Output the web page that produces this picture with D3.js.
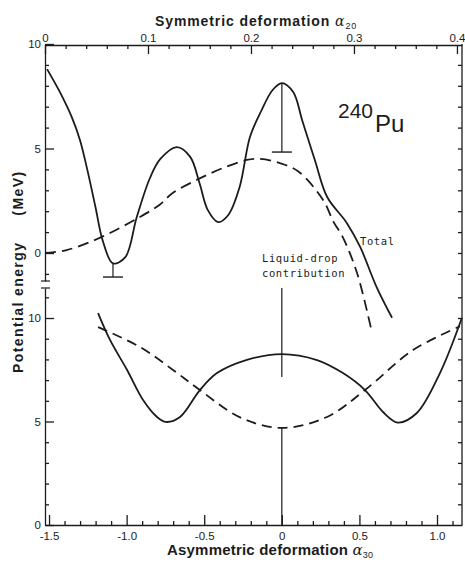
<!DOCTYPE html>
<html>
<head>
<meta charset="utf-8">
<title>240Pu potential energy</title>
<script src="https://d3js.org/d3.v7.min.js"></script>
<style>
  body { margin: 0; background: #fff; }
  svg { display: block; font-family: "Liberation Sans", Arial, sans-serif; }
  .axis path, .axis line { stroke: #1c1c1c; stroke-width: 1.3; }
  .axis text { font-size: 11px; fill: #1c1c1c; }
  .curve { fill: none; stroke: #1c1c1c; stroke-width: 1.8; }
</style>
</head>
<body>
<svg width="465" height="562"></svg>
<script>
// upper panel: energy (MeV) against symmetric deformation alpha20
const totalA20 = [0.002, 0.015, 0.026, 0.034, 0.041, 0.049, 0.056, 0.066, 0.078, 0.089, 0.102, 0.112, 0.128,
                  0.141, 0.150, 0.158, 0.168, 0.178, 0.189, 0.199, 0.209, 0.221, 0.230, 0.241, 0.250, 0.262,
                  0.274, 0.293, 0.306, 0.322, 0.337];
const totalE = [8.8, 7.65, 6.5, 5.4, 4.0, 2.2, 0.6, -0.5, -0.2, 1.7, 3.6, 4.5, 5.07,
                4.6, 3.35, 2.06, 1.48, 1.82, 3.16, 5.55, 6.7, 7.8, 8.13, 7.7, 6.3, 4.45,
                2.68, 1.44, 0.29, -1.63, -3.1];
const ldropA20 = [0.0, 0.021, 0.053, 0.092, 0.111, 0.124, 0.147, 0.173, 0.196, 0.209, 0.228, 0.246,
                  0.270, 0.280, 0.289, 0.303, 0.317];
const ldropE = [0.0, 0.14, 0.72, 1.72, 2.3, 2.87, 3.49, 4.07, 4.45, 4.5, 4.3, 3.9,
                2.54, 1.5, 0.77, -0.96, -3.7];

// lower panel: energy (MeV) against asymmetric deformation alpha30
const totalA30 = [-1.184, -1.107, -0.997, -0.894, -0.804, -0.747, -0.656, -0.528, -0.418, -0.23, 0,
                  0.227, 0.394, 0.536, 0.652, 0.748, 0.87, 1.019, 1.16];
const totalLowE = [10.24, 8.94, 7.49, 6.04, 5.22, 4.98, 5.22, 6.52, 7.34, 7.97, 8.26,
                   7.97, 7.34, 6.52, 5.46, 4.95, 5.41, 7.34, 10.0];
const ldropA30 = [-1.184, -0.914, -0.701, -0.528, -0.269, 0, 0.291, 0.536, 0.845, 1.148];
const ldropLowE = [9.56, 8.6, 7.49, 6.52, 5.2, 4.69, 5.22, 6.52, 8.45, 9.6];

// shell-correction arrows (upper panel)
const arrowA20 = [0.066, 0.230];
const arrowFrom = [-0.5, 8.13];
const arrowTo = [-1.15, 4.83];

// vertical marker at alpha30 = 0 (lower panel), broken between the curves
const markFrom = [11.45, 4.69];
const markTo = [7.15, 0];

// ticks
const topTicks = [0, 0.1, 0.2, 0.3, 0.4];
const topLabels = ["0", "0.1", "0.2", "0.3", "0.4"];
const bottomTicks = [-1.5, -1.0, -0.5, 0, 0.5, 1.0];
const bottomLabels = ["-1.5", "-1.0", "-0.5", "0", "0.5", "1.0"];
const energyTicks = [0, 5, 10];
const energyLabels = ["0", "5", "10"];

const svg = d3.select("svg");
const ink = "#1c1c1c";

const xTop = d3.scaleLinear().domain([0, 0.4049]).range([45, 462]);
const xBot = d3.scaleLinear().domain([-1.526, 1.161]).range([45, 462]);
const yUp = d3.scaleLinear().domain([-1.34, 10]).range([281, 44]);
const yLow = d3.scaleLinear().domain([0, 11.45]).range([525, 288]);

function minorOf(lo, hi, step, majors) {
  return d3.range(lo, hi + step / 2, step).map(v => +v.toFixed(3))
    .filter(v => !majors.some(m => Math.abs(m - v) < 1e-6));
}

// top axis
svg.append("g").attr("class", "axis").attr("transform", "translate(0,45)")
  .call(d3.axisTop(xTop).tickValues(minorOf(0, 0.4, 0.02, topTicks)).tickSizeInner(-4).tickSizeOuter(0).tickFormat(""))
  .call(g => g.select(".domain").remove());
svg.append("g").attr("class", "axis").attr("transform", "translate(0,45)")
  .call(d3.axisTop(xTop).tickValues(topTicks).tickSizeInner(-9).tickSizeOuter(0).tickPadding(3)
    .tickFormat((d, i) => topLabels[i]));

// bottom axis
svg.append("g").attr("class", "axis").attr("transform", "translate(0,525)")
  .call(d3.axisBottom(xBot).tickValues(minorOf(-1.5, 1.1, 0.1, bottomTicks)).tickSizeInner(-4).tickSizeOuter(0).tickFormat(""))
  .call(g => g.select(".domain").remove());
svg.append("g").attr("class", "axis").attr("transform", "translate(0,525)")
  .call(d3.axisBottom(xBot).tickValues(bottomTicks).tickSizeInner(-10).tickSizeOuter(0).tickPadding(7)
    .tickFormat((d, i) => bottomLabels[i]));

// left axis, upper and lower parts
svg.append("g").attr("class", "axis").attr("transform", "translate(45,0)")
  .call(d3.axisLeft(yUp).tickValues(minorOf(-1, 9, 1, energyTicks)).tickSizeInner(-4).tickSizeOuter(0).tickFormat(""))
  .call(g => g.select(".domain").remove());
svg.append("g").attr("class", "axis").attr("transform", "translate(45,0)")
  .call(d3.axisLeft(yUp).tickValues(energyTicks).tickSizeInner(-9).tickSizeOuter(0).tickPadding(4)
    .tickFormat((d, i) => energyLabels[i]));
svg.append("g").attr("class", "axis").attr("transform", "translate(45,0)")
  .call(d3.axisLeft(yLow).tickValues(minorOf(1, 11, 1, energyTicks)).tickSizeInner(-4).tickSizeOuter(0).tickFormat(""))
  .call(g => g.select(".domain").remove());
svg.append("g").attr("class", "axis").attr("transform", "translate(45,0)")
  .call(d3.axisLeft(yLow).tickValues(energyTicks).tickSizeInner(-9).tickSizeOuter(0).tickPadding(4)
    .tickFormat((d, i) => energyLabels[i]));
svg.selectAll(".axis text").style("font-size", "11.5px");

// axis break marks
[yUp(-1.34), yLow(11.45)].forEach(y => {
  svg.append("line").attr("x1", 41).attr("x2", 50).attr("y1", y).attr("y2", y)
    .attr("stroke", ink).attr("stroke-width", 1.2);
});

// right axis, continuous
svg.append("line").attr("x1", 462).attr("x2", 462).attr("y1", 44).attr("y2", 525)
  .attr("stroke", ink).attr("stroke-width", 1.3);
svg.append("g").attr("class", "axis").attr("transform", "translate(462,0)")
  .call(d3.axisRight(yUp).tickValues(d3.range(-1, 10, 1)).tickSizeInner(-4).tickSizeOuter(0).tickFormat(""))
  .call(g => g.select(".domain").remove());
svg.append("g").attr("class", "axis").attr("transform", "translate(462,0)")
  .call(d3.axisRight(yLow).tickValues(d3.range(1, 12, 1)).tickSizeInner(-4).tickSizeOuter(0).tickFormat(""))
  .call(g => g.select(".domain").remove());

// curves
const lineUp = d3.line().x(d => xTop(d[0])).y(d => yUp(d[1])).curve(d3.curveCatmullRom.alpha(0.5));
const lineLow = d3.line().x(d => xBot(d[0])).y(d => yLow(d[1])).curve(d3.curveCatmullRom.alpha(0.5));

svg.append("path").attr("class", "curve").attr("d", lineUp(d3.zip(totalA20, totalE)));
svg.append("path").attr("class", "curve").attr("stroke-dasharray", "11,6")
  .attr("d", lineUp(d3.zip(ldropA20, ldropE)));
svg.append("path").attr("class", "curve").attr("d", lineLow(d3.zip(totalA30, totalLowE)));
svg.append("path").attr("class", "curve").attr("stroke-dasharray", "10,6")
  .attr("d", lineLow(d3.zip(ldropA30, ldropLowE)));

// shell-correction arrows
arrowA20.forEach((a, i) => {
  const x = xTop(a);
  svg.append("line").attr("x1", x).attr("x2", x).attr("y1", yUp(arrowFrom[i])).attr("y2", yUp(arrowTo[i]))
    .attr("stroke", ink).attr("stroke-width", 1.2);
  svg.append("line").attr("x1", x - 10).attr("x2", x + 10).attr("y1", yUp(arrowTo[i])).attr("y2", yUp(arrowTo[i]))
    .attr("stroke", ink).attr("stroke-width", 1.4);
});

// alpha30 = 0 marker
markFrom.forEach((e, i) => {
  svg.append("line").attr("x1", xBot(0)).attr("x2", xBot(0)).attr("y1", yLow(e)).attr("y2", yLow(markTo[i]))
    .attr("stroke", ink).attr("stroke-width", 1.2);
});

// titles
const topTitle = svg.append("text").attr("x", 155).attr("y", 26)
  .style("font-size", "14px").style("font-weight", "bold").style("letter-spacing", "0.9px").attr("fill", ink);
topTitle.append("tspan").text("Symmetric deformation ");
topTitle.append("tspan").text("α").style("font-weight", "normal").style("font-family", "DejaVu Serif").style("font-style", "italic");
topTitle.append("tspan").text("20").attr("dy", 3).style("font-size", "9px").style("font-weight", "normal");

const botTitle = svg.append("text").attr("x", 167).attr("y", 555)
  .style("font-size", "15px").style("font-weight", "bold").style("letter-spacing", "0.2px").attr("fill", ink);
botTitle.append("tspan").text("Asymmetric deformation ");
botTitle.append("tspan").text("α").style("font-weight", "normal").style("font-family", "DejaVu Serif").style("font-style", "italic");
botTitle.append("tspan").text("30").attr("dy", 3).style("font-size", "9px").style("font-weight", "normal");

const yTitle = svg.append("text").attr("transform", "translate(23,373) rotate(-90)")
  .style("font-size", "14px").style("font-weight", "bold").style("letter-spacing", "1.4px").attr("fill", ink);
yTitle.append("tspan").text("Potential energy");
yTitle.append("tspan").attr("dx", 26).text("(MeV)");

// nucleus label
const nuc = svg.append("text").attr("x", 338).attr("y", 118).attr("fill", ink);
nuc.append("tspan").text("240").style("font-size", "21px");
nuc.append("tspan").text("Pu").attr("dy", 14).attr("dx", 2).style("font-size", "24px");

// curve labels
const mono = { "font-family": "DejaVu Sans Mono", "font-size": "10.5px", "letter-spacing": "0.6px" };
function addLabel(x, y, s) {
  const t = svg.append("text").attr("x", x).attr("y", y).attr("fill", ink).text(s);
  Object.entries(mono).forEach(([k, v]) => t.style(k, v));
}
addLabel(360, 245, "Total");
addLabel(262, 262, "Liquid-drop");
addLabel(262, 277, "contribution");
</script>
</body>
</html>
